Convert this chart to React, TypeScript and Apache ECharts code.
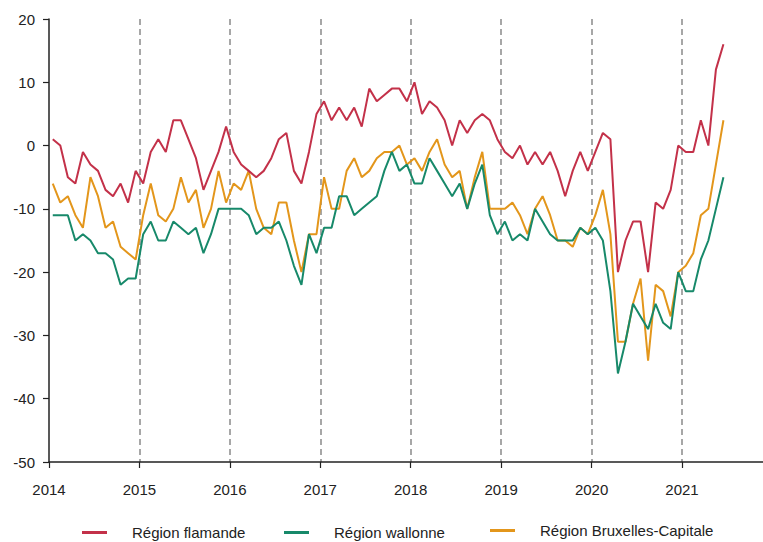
import React, { useEffect, useRef } from "react";
import * as echarts from "echarts";

const startYear = 2014;
const yearTicks = [2014, 2015, 2016, 2017, 2018, 2019, 2020, 2021];
const seriesNames = ["Région flamande", "Région wallonne", "Région Bruxelles-Capitale"];

// monthly values, Jan 2014 .. Jun 2021
const flamande = [
  1, 0, -5, -6, -1, -3, -4, -7, -8, -6, -9, -4,
  -6, -1, 1, -1, 4, 4, 1, -2, -7, -4, -1, 3,
  -1, -3, -4, -5, -4, -2, 1, 2, -4, -6, -1, 5,
  7, 4, 6, 4, 6, 3, 9, 7, 8, 9, 9, 7,
  10, 5, 7, 6, 4, 0, 4, 2, 4, 5, 4, 1,
  -1, -2, 0, -3, -1, -3, -1, -4, -8, -4, -1, -4,
  -1, 2, 1, -20, -15, -12, -12, -20, -9, -10, -7, 0,
  -1, -1, 4, 0, 12, 16,
];
const wallonne = [
  -11, -11, -11, -15, -14, -15, -17, -17, -18, -22, -21, -21,
  -14, -12, -15, -15, -12, -13, -14, -13, -17, -14, -10, -10,
  -10, -10, -11, -14, -13, -13, -12, -15, -19, -22, -14, -17,
  -13, -13, -8, -8, -11, -10, -9, -8, -4, -1, -4, -3,
  -6, -6, -2, -4, -6, -8, -6, -10, -6, -3, -11, -14,
  -12, -15, -14, -15, -10, -12, -14, -15, -15, -15, -13, -14,
  -13, -15, -23, -36, -31, -25, -27, -29, -25, -28, -29, -20,
  -23, -23, -18, -15, -10, -5,
];
const bruxelles = [
  -6, -9, -8, -11, -13, -5, -8, -13, -12, -16, -17, -18,
  -11, -6, -11, -12, -10, -5, -9, -7, -13, -10, -4, -9,
  -6, -7, -4, -10, -13, -14, -9, -9, -15, -20, -14, -14,
  -5, -10, -10, -4, -2, -5, -4, -2, -1, -1, 0, -3,
  -2, -4, -1, 1, -3, -5, -4, -10, -5, -1, -10, -10,
  -10, -9, -11, -14, -10, -8, -11, -15, -15, -16, -13, -14,
  -11, -7, -14, -31, -31, -25, -21, -34, -22, -23, -27, -20,
  -19, -17, -11, -10, -3, 4,
];

const colors = ["#C33149", "#17896A", "#E3961B"];
const FONT = "'Liberation Sans', Arial, Helvetica, sans-serif";

export default function App() {
  const ref = useRef<HTMLDivElement>(null);
  useEffect(() => {
    if (!ref.current) return;
    const chart = echarts.init(ref.current, undefined, { renderer: "svg" });
    const toPts = (arr: number[]) => arr.map((v, i) => [i + 0.5, v]);
    const values = [flamande, wallonne, bruxelles];
    const legendLefts = [77, 279, 485];
    const legendTops = [520, 520, 518];
    chart.setOption({
      animation: false,
      textStyle: { fontFamily: FONT },
      grid: { left: 49, right: 0, top: 19, bottom: 80, containLabel: false },
      legend: seriesNames.map((n, k) => ({
        data: [n],
        left: legendLefts[k],
        top: legendTops[k],
        icon: "rect",
        itemWidth: 25,
        itemHeight: 3,
        selectedMode: false,
        textStyle: { fontSize: 15, color: "#222", fontFamily: FONT, padding: [0, 0, 0, 20] },
      })),
      xAxis: {
        type: "value",
        min: 0,
        max: 94.75,
        interval: 12,
        axisLine: { show: true, onZero: false, lineStyle: { color: "#222", width: 1.5 } },
        axisTick: { show: true, length: 6, lineStyle: { color: "#222", width: 1.2 } },
        axisLabel: {
          fontSize: 15,
          color: "#222",
          margin: 20,
          showMaxLabel: false,
          fontFamily: FONT,
          formatter: (v: number) => {
            const idx = Math.round(v / 12);
            return Math.abs(v - idx * 12) < 1e-6 && yearTicks[idx] !== undefined ? String(yearTicks[idx]) : "";
          },
        },
        splitLine: {
          show: true,
          showMinLine: false,
          showMaxLine: false,
          lineStyle: { color: "#8a8a8a", width: 1.5, type: [6, 4] },
        },
      },
      yAxis: {
        type: "value",
        min: -50,
        max: 20,
        interval: 10,
        axisLine: { show: true, lineStyle: { color: "#222", width: 1.5 } },
        axisTick: { show: true, length: 6, lineStyle: { color: "#222", width: 1.2 } },
        axisLabel: { fontSize: 15, color: "#222", margin: 14, fontFamily: FONT },
        splitLine: { show: false },
      },
      series: seriesNames.map((n, k) => ({
        name: n,
        type: "line",
        data: toPts(values[k]),
        symbol: "none",
        showSymbol: false,
        lineStyle: { color: colors[k], width: 2 },
        itemStyle: { color: colors[k] },
        z: 3 - k,
      })),
    });
    return () => chart.dispose();
  }, []);
  return (
    <div
      ref={ref}
      style={{ position: "fixed", left: 0, top: 0, width: 763, height: 542, background: "#fff" }}
    />
  );
}
